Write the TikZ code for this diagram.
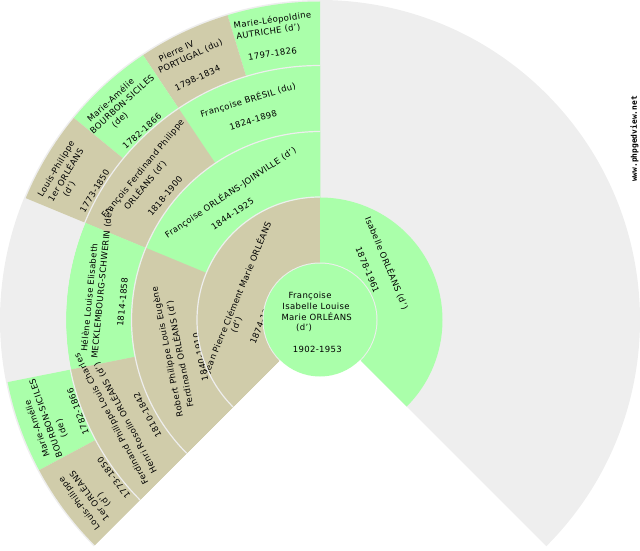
\documentclass[tikz,border=0pt]{standalone}
\usepackage{fontspec}
\setmainfont[LetterSpace=4]{DejaVu Sans}
\newfontfamily\wmfont{DejaVu Sans Mono}
\definecolor{fangreen}{HTML}{AAFFAA}
\definecolor{fantan}{HTML}{D0CCAA}
\definecolor{fangrey}{HTML}{EEEEEE}
\tikzset{
  fanlabel/.style={inner sep=0pt,outer sep=0pt,anchor=center,text=black,font=\fontsize{8.5}{10}\selectfont},
  wmlabel/.style={inner sep=0pt,outer sep=0pt,anchor=center,text=black,font=\wmfont\bfseries\fontsize{7.9}{9}\selectfont},
  gap/.style={draw=fangrey,line width=1.2pt}
}
% name, x px, y px, rotation, text
\newcommand{\fanline}[5]{\node[fanlabel,rotate=#4] (#1) at (#2,{550-#3}) {#5};}
% outer radius, start, end, colour: a wedge from the centre (inner rings cover it)
\newcommand{\fanwedge}[4]{\fill[#4] (320,230) -- ++(#2:#1) arc[start angle=#2,end angle=#3,radius=#1] -- cycle;}
\newcommand{\fangap}[3]{\draw[gap] (320,230) ++(#2:#1) arc[start angle=#2,end angle=#3,radius=#1];}
\begin{document}
\begin{tikzpicture}[x=1pt,y=1pt]
\useasboundingbox (0,0) rectangle (640,550);
% ground
\fill[fangrey] (320,230) -- ++(225:320) arc[start angle=225,end angle=-45,radius=320] -- cycle;
% ring 4
\fanwedge{318.5}{90}{106.875}{fangreen}
\fanline{a1}{272.5}{20.5}{8.44}{Marie-Léopoldine}
\fanline{a2}{268.3}{31.7}{8.44}{AUTRICHE (d')}
\fanline{a3}{272.5}{53.8}{8.44}{1797-1826}
\fanwedge{318.5}{106.875}{123.75}{fantan}
\fanline{b1}{176.3}{51.3}{25.3}{Pierre IV}
\fanline{b2}{190.5}{56.7}{25.3}{PORTUGAL (du)}
\fanline{b3}{197.5}{78}{25.3}{1798-1834}
\fanwedge{318.5}{123.75}{140.625}{fangreen}
\fanline{c1}{110.5}{100}{42.2}{Marie-Amélie}
\fanline{c2}{122}{104}{42.2}{BOURBON-SICILES}
\fanline{c3}{120}{120}{42.2}{(de)}
\fanline{c4}{142}{131}{42.2}{1782-1866}
\fanwedge{318.5}{140.625}{157.5}{fantan}
\fanline{d1}{56.7}{169}{59.06}{Louis-Philippe}
\fanline{d2}{65}{174.7}{59.06}{1er ORLÉANS}
\fanline{d3}{69.3}{189.3}{59.06}{(d')}
\fanline{d4}{94.7}{191}{59.06}{1773-1850}
\fanwedge{318.5}{191.25}{208.125}{fangreen}
\fanline{e1}{36.7}{428.7}{109.7}{Marie-Amélie}
\fanline{e2}{45.8}{418.3}{109.7}{BOURBON-SICILES}
\fanline{e3}{61.7}{428.3}{109.7}{(de)}
\fanline{e4}{78}{411.7}{109.7}{1782-1866}
\fanwedge{318.5}{208.125}{225}{fantan}
\fanline{f1}{79.7}{503.3}{126.56}{Louis-Philippe}
\fanline{f2}{88.7}{496.7}{126.56}{1er ORLÉANS}
\fanline{f3}{104}{500}{126.56}{(d')}
\fanline{f4}{113.8}{478}{126.56}{1773-1850}
% ring 3
\fanwedge{254}{90}{123.75}{fangreen}
\fanline{g1}{248}{100}{16.875}{Françoise BRÉSIL (du)}
\fanline{g2}{253.3}{120}{16.875}{1824-1898}
\fanwedge{254}{123.75}{157.5}{fantan}
\fanline{h1}{143.3}{169}{50.625}{François Ferdinand Philippe}
\fanline{h2}{145}{185}{50.625}{ORLÉANS (d')}
\fanline{h3}{165}{196}{50.625}{1818-1900}
\fanwedge{254}{157.5}{191.25}{fangreen}
\fanline{i1}{89}{297.5}{84.375}{Hélène Louise Elisabeth}
\fanline{i2}{102}{284}{84.375}{MECKLEMBOURG-SCHWERIN (de)}
\fanline{i3}{122.5}{302}{84.375}{1814-1858}
\fanwedge{254}{191.25}{225}{fantan}
\fanline{j1}{111.7}{419}{118.125}{Ferdinand Philippe Louis Charles}
\fanline{j2}{125}{418}{118.125}{Henri Rosolin ORLÉANS (d')}
\fanline{j3}{147.5}{415}{118.125}{1810-1842}
\fangap{254.5}{90}{225}
% ring 2
\fanwedge{188}{90}{157.5}{fangreen}
\fanline{k1}{230.5}{192.5}{33.75}{Françoise ORLÉANS-JOINVILLE (d')}
\fanline{k2}{232.5}{214}{33.75}{1844-1925}
\fanwedge{188}{157.5}{225}{fantan}
\fanline{l1}{167.7}{352}{101.25}{Robert Philippe Louis Eugène}
\fanline{l2}{179.7}{354}{101.25}{Ferdinand ORLÉANS (d')}
\fanline{l3}{200.5}{356.7}{101.25}{1840-1910}
\fangap{188.5}{90}{225}
% ring 1
\fanwedge{122.5}{90}{225}{fantan}
\fanline{m1}{237.5}{297.5}{67.5}{Jean Pierre Clément Marie ORLÉANS}
\fanline{m2}{236.7}{325}{67.5}{(d')}
\fanline{m3}{261.9}{321}{67.5}{1874-1940}
\fanwedge{122.5}{-45}{90}{fangreen}
\fanline{n1}{387}{263}{-67.5}{Isabelle ORLÉANS (d')}
\fanline{n2}{367.5}{270}{-67.5}{1878-1961}
\fangap{123}{90}{225}
% centre
\fill[fangrey] (320,230) circle[radius=57.5];
\fill[white] (320,230) -- ++(225:58) arc[start angle=225,end angle=315,radius=58] -- cycle;
\fill[fangreen] (320,230) circle[radius=56.5];
\fanline{o1}{310}{296}{0}{Françoise}
\fanline{o2}{316}{306}{0}{Isabelle Louise}
\fanline{o3}{316.7}{316.7}{0}{Marie ORLÉANS}
\fanline{o4}{304}{327.7}{0}{(d')}
\fanline{o5}{317.3}{349.7}{0}{1902-1953}
% site mark
\node[wmlabel,rotate=90] (wm) at (634.5,{550-139}) {www.phpgedview.net};
\end{tikzpicture}
\end{document}
